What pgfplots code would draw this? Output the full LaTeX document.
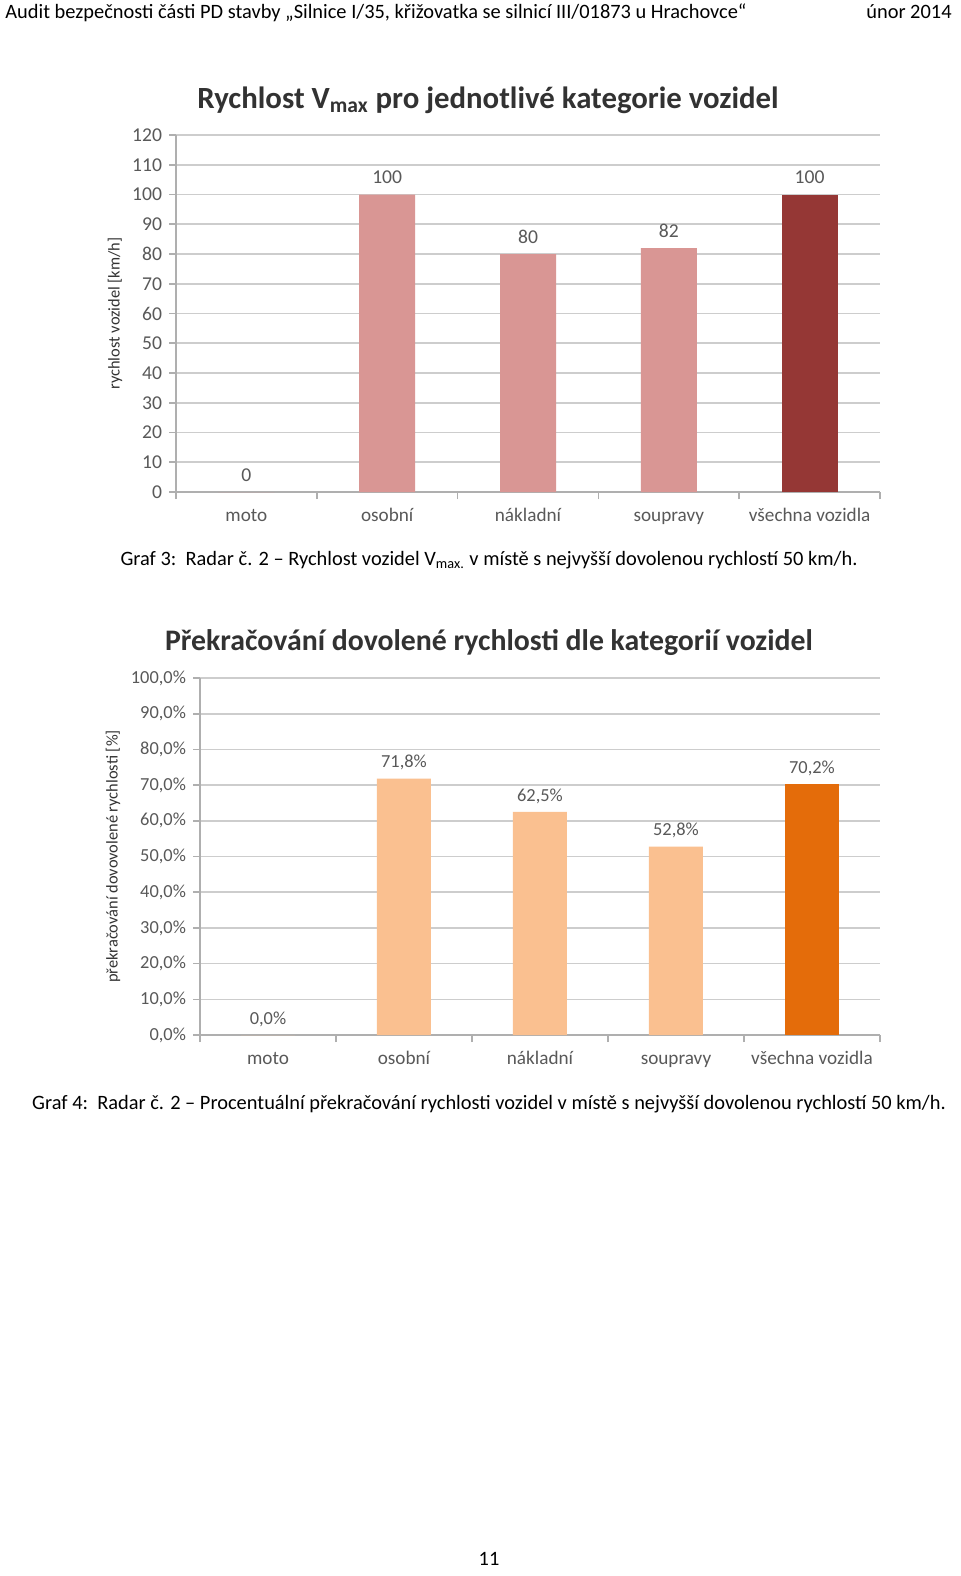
\documentclass[border=0pt]{standalone}
\usepackage{fontspec}
\setmainfont{Carlito}
\usepackage{pgfplots}
\pgfplotsset{compat=1.18}

\definecolor{pinkbar}{RGB}{217,150,148}
\definecolor{darkredbar}{RGB}{149,55,53}
\definecolor{lightorange}{RGB}{250,192,144}
\definecolor{darkorange}{RGB}{228,108,10}
\definecolor{ticktext}{RGB}{89,89,89}
\definecolor{gridgray}{RGB}{205,205,205}
\definecolor{axisgray}{RGB}{175,175,175}
\definecolor{titletext}{RGB}{50,50,50}

\pgfplotsset{
  mybars/.style={
    scale only axis,
    ybar,
    xmin=-0.5, xmax=4.5, ymin=0,
    axis lines*=left,
    axis line style={axisgray, line width=0.8pt},
    ymajorgrids,
    grid style={gridgray, line width=0.8pt},
    xtick={0,1,2,3,4},
    xticklabels={moto,osobní,nákladní,soupravy,všechna vozidla},
    major x tick style={draw=none},
    minor xtick={-0.5,0.5,1.5,2.5,3.5,4.5},
    minor tick length=3.5pt,
    major tick length=3.5pt,
    tick align=outside,
    tick style={axisgray, line width=0.8pt},
    typeset ticklabels with strut,
    /pgf/number format/assume math mode=true,
    xticklabel style={font=\fontsize{9.6}{11}\selectfont, text=ticktext},
    yticklabel style={text=ticktext},
    ylabel style={at={(axis description cs:0,0.5)}, anchor=center,
      font=\fontsize{8.2}{10}\selectfont, text=black!80},
    nodes near coords,
    point meta=explicit symbolic,
    every node near coord/.append style={text=ticktext, anchor=south, inner sep=0pt, yshift=5pt},
    clip=false,
  }
}

\begin{document}
\begin{tikzpicture}
\useasboundingbox (0pt,0pt) rectangle (480pt,-788pt);
\fill[white] (0pt,0pt) rectangle (480pt,-788pt);

% header
\node[anchor=base west, inner sep=0pt, font=\fontsize{10.2}{12}\selectfont] at (2.5pt,-9pt)
  {Audit bezpečnosti části PD stavby „Silnice I/35, křižovatka se silnicí III/01873 u Hrachovce“};
\node[anchor=base east, inner sep=0pt, font=\fontsize{10.2}{12}\selectfont] at (476pt,-9pt) {únor 2014};

% chart 1
\node[anchor=base, inner sep=0pt, font=\bfseries\fontsize{15.4}{18}\selectfont, text=titletext] at (244pt,-54pt)
  {Rychlost V\textsubscript{max} pro jednotlivé kategorie vozidel};
\begin{axis}[mybars,
  at={(88pt,-246pt)}, anchor=south west,
  width=352pt, height=178.5pt,
  ymax=120, ytick={0,10,...,120},
  yticklabel={\pgfmathprintnumber{\tick}},
  yticklabel style={font=\fontsize{9.8}{11}\selectfont},
  ylabel={rychlost vozidel [km/h]},
  ylabel style={yshift=30.5pt},
  every node near coord/.append style={font=\fontsize{9.8}{11}\selectfont},
]
\addplot[fill=pinkbar, draw=none, bar width=28pt, bar shift=0pt]
  coordinates {(0,0) [0] (1,100) [100] (2,80) [80] (3,82) [82]};
\addplot[fill=darkredbar, draw=none, bar width=28pt, bar shift=0pt]
  coordinates {(4,100) [100]};
\end{axis}

\node[anchor=base, inner sep=0pt, font=\fontsize{10.2}{12}\selectfont] at (244.5pt,-282.5pt)
  {Graf 3:\ \ Radar č. 2 – Rychlost vozidel V\textsubscript{max.} v místě s nejvyšší dovolenou rychlostí 50 km/h.};

% chart 2
\node[anchor=base, inner sep=0pt, font=\bfseries\fontsize{14.9}{18}\selectfont, text=titletext] at (244.5pt,-325pt)
  {Překračování dovolené rychlosti dle kategorií vozidel};
\begin{axis}[mybars,
  at={(100pt,-517.5pt)}, anchor=south west,
  width=340pt, height=178.5pt,
  ymax=100, ytick={0,10,...,100},
  yticklabel={\pgfmathprintnumber[fixed,fixed zerofill,precision=1,use comma]{\tick}\%},
  yticklabel style={font=\fontsize{9.2}{11}\selectfont},
  ylabel={překračování dovovolené rychlosti [\%]},
  ylabel style={yshift=43.5pt},
  every node near coord/.append style={font=\fontsize{9.2}{11}\selectfont, yshift=-1pt},
]
\addplot[fill=lightorange, draw=none, bar width=27pt, bar shift=0pt]
  coordinates {(0,0) [0,0\%] (1,71.8) [71,8\%] (2,62.5) [62,5\%] (3,52.8) [52,8\%]};
\addplot[fill=darkorange, draw=none, bar width=27pt, bar shift=0pt]
  coordinates {(4,70.2) [70,2\%]};
\end{axis}

\node[anchor=base, inner sep=0pt, font=\fontsize{10.2}{12}\selectfont] at (244.5pt,-554.5pt)
  {Graf 4:\ \ Radar č. 2 – Procentuální překračování rychlosti vozidel v místě s nejvyšší dovolenou rychlostí 50 km/h.};

\node[anchor=base, inner sep=0pt, font=\fontsize{10.2}{12}\selectfont] at (244.5pt,-782.5pt) {11};
\end{tikzpicture}
\end{document}
